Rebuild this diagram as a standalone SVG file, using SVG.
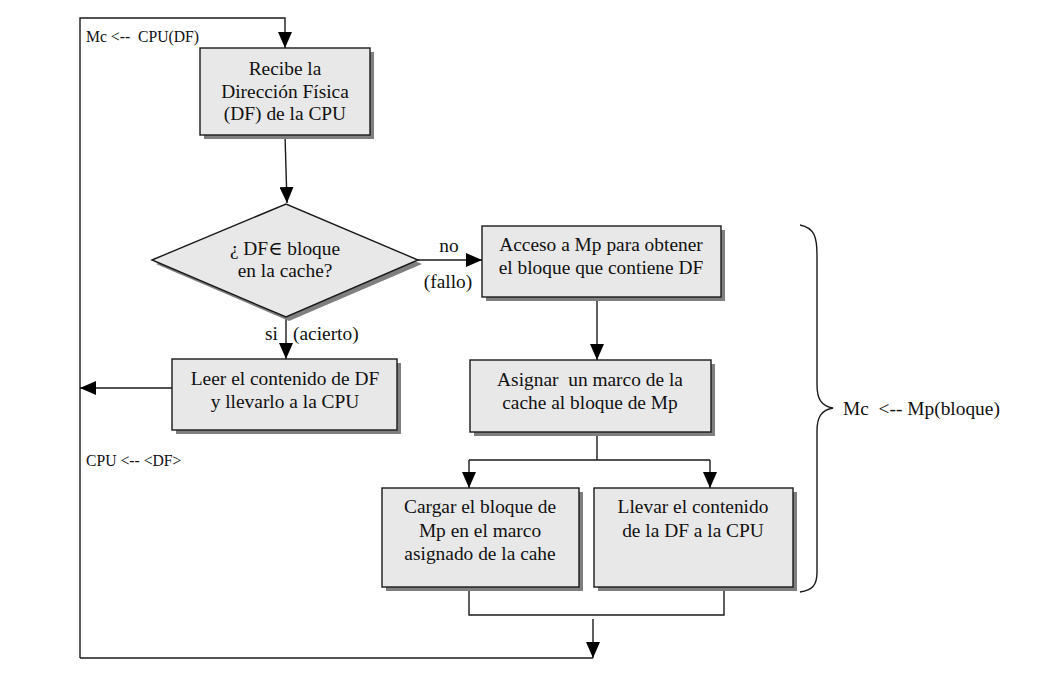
<svg xmlns="http://www.w3.org/2000/svg" width="1064" height="683" viewBox="0 0 1064 683">
<style>
.box{fill:#e8e8e8;stroke:#1a1a1a;stroke-width:1.4}
.sh{fill:#7f7f7f}
.ln{fill:none;stroke:#1a1a1a;stroke-width:1.4}
.t{font-family:"Liberation Serif","DejaVu Serif",serif;font-size:19.4px;fill:#111;text-anchor:middle}
.s{font-family:"Liberation Serif","DejaVu Serif",serif;font-size:15.7px;fill:#111}
.l{font-family:"Liberation Serif","DejaVu Serif",serif;font-size:19.4px;fill:#111}
</style>
<defs>
<marker id="ah" markerUnits="userSpaceOnUse" markerWidth="16" markerHeight="14" viewBox="0 0 16 14" refX="16" refY="7" orient="auto">
<path d="M0,0 L16,7 L0,14 Z" fill="#000"/>
</marker>
</defs>
<rect width="1064" height="683" fill="#fff"/>

<g id="connectors">
<path class="ln" d="M285,135 L287,203" marker-end="url(#ah)"/>
<path class="ln" d="M80,658 L80,18 L285,18 L285,48" marker-end="url(#ah)"/>
<path class="ln" d="M418,260 L482,260" marker-end="url(#ah)"/>
<path class="ln" d="M286,317 L286,359" marker-end="url(#ah)"/>
<path class="ln" d="M176,388 L80,388" marker-end="url(#ah)"/>
<path class="ln" d="M597,298 L597,360" marker-end="url(#ah)"/>
<path class="ln" d="M597,432 L597,460 M469,460 L710,460"/>
<path class="ln" d="M469,460 L469,488" marker-end="url(#ah)"/>
<path class="ln" d="M710,460 L710,488" marker-end="url(#ah)"/>
<path class="ln" d="M469,587 L469,615 L724,615 L724,587"/>
<path class="ln" d="M593,619 L593,658" marker-end="url(#ah)"/>
<path class="ln" d="M80,658 L593,658"/>
<path class="ln" d="M800,225 C815,228 817,238 817,255 L817,385 C817,400 822,406 833,408 C822,410 817,416 817,431 L817,572 C817,586 812,590 800,592"/>
</g>

<g id="n-recibe">
<rect class="sh" x="204" y="52" width="170" height="87"/>
<rect class="box" x="200" y="48" width="170" height="87"/>
<text class="t" x="285" y="75">Recibe la</text>
<text class="t" x="285" y="97.5">Dirección Física</text>
<text class="t" x="285" y="120">(DF) de la CPU</text>
</g>

<g id="n-decision">
<polygon class="sh" points="156,264 289,209 422,264 289,321"/>
<polygon class="box" points="152,260 286,204 418,260 286,317"/>
<text class="t" x="285" y="255">¿ DF∈ bloque</text>
<text class="t" x="285" y="277">en la cache?</text>
</g>

<g id="n-leer">
<rect class="sh" x="176" y="363" width="225" height="71"/>
<rect class="box" x="172" y="359" width="225" height="71"/>
<text class="t" x="285" y="385">Leer el contenido de DF</text>
<text class="t" x="285" y="408">y llevarlo a la CPU</text>
</g>

<g id="n-acceso">
<rect class="sh" x="486" y="230" width="239" height="71"/>
<rect class="box" x="482" y="226" width="239" height="71"/>
<text class="t" x="601" y="251">Acceso a Mp para obtener</text>
<text class="t" x="601" y="274">el bloque que contiene DF</text>
</g>

<g id="n-asignar">
<rect class="sh" x="474" y="364" width="241" height="72"/>
<rect class="box" x="470" y="360" width="241" height="72"/>
<text class="t" x="590" y="386" xml:space="preserve">Asignar  un marco de la</text>
<text class="t" x="590" y="409">cache al bloque de Mp</text>
</g>

<g id="n-cargar">
<rect class="sh" x="386" y="492" width="197" height="99"/>
<rect class="box" x="382" y="488" width="197" height="99"/>
<text class="t" x="480" y="513">Cargar el bloque de</text>
<text class="t" x="480" y="537">Mp en el marco</text>
<text class="t" x="480" y="560">asignado de la cahe</text>
</g>

<g id="n-llevar">
<rect class="sh" x="598" y="492" width="199" height="99"/>
<rect class="box" x="594" y="488" width="199" height="99"/>
<text class="t" x="693" y="513">Llevar el contenido</text>
<text class="t" x="693" y="537">de la DF a la CPU</text>
</g>

<g id="labels">
<text class="s" x="86" y="42" xml:space="preserve">Mc &lt;--  CPU(DF)</text>
<text class="s" x="86" y="466">CPU &lt;-- &lt;DF&gt;</text>
<text class="l" x="449" y="252" text-anchor="middle">no</text>
<text class="l" x="448" y="288" text-anchor="middle">(fallo)</text>
<text class="l" x="278" y="340" text-anchor="end">si</text>
<text class="l" x="293" y="340">(acierto)</text>
<text class="l" x="843" y="415" xml:space="preserve">Mc  &lt;-- Mp(bloque)</text>
</g>
</svg>
